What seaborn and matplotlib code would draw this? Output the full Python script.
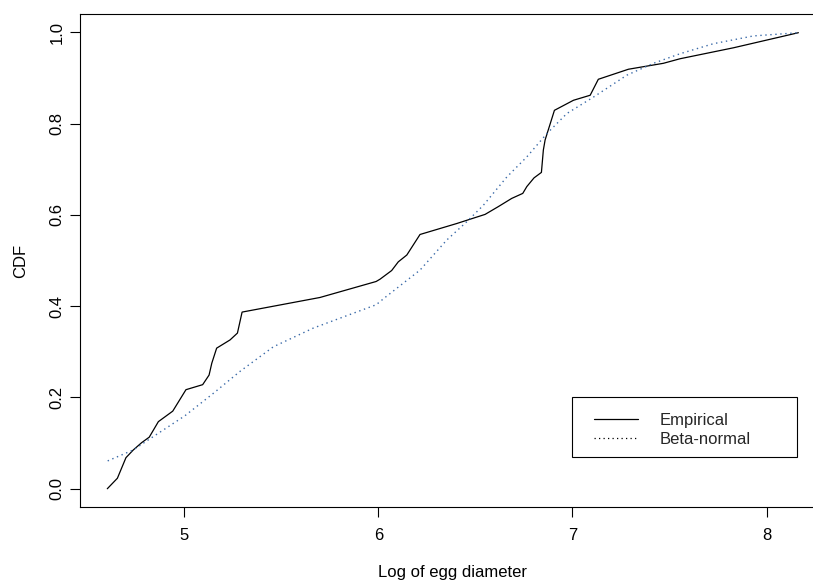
import matplotlib
matplotlib.use("Agg")
import matplotlib.pyplot as plt
import seaborn as sns
import pandas as pd
import numpy as np
from matplotlib.lines import Line2D
from matplotlib.patches import Rectangle

# Empirical CDF points (log egg diameter, CDF)
emp_x = [4.605, 4.657, 4.701, 4.739, 4.782, 4.821, 4.868, 4.942, 5.010, 5.096,
         5.129, 5.143, 5.168, 5.237, 5.275, 5.299, 5.700, 5.989, 6.009, 6.069,
         6.103, 6.147, 6.215, 6.404, 6.550, 6.618, 6.687, 6.744, 6.765, 6.802,
         6.840, 6.850, 6.859, 6.907, 7.005, 7.091, 7.133, 7.288, 7.468, 7.554,
         7.829, 8.163]
emp_y = [0.000, 0.023, 0.068, 0.085, 0.101, 0.113, 0.147, 0.170, 0.217, 0.228,
         0.249, 0.275, 0.308, 0.326, 0.341, 0.387, 0.419, 0.454, 0.459, 0.478,
         0.497, 0.512, 0.557, 0.581, 0.601, 0.618, 0.636, 0.647, 0.662, 0.681,
         0.693, 0.742, 0.764, 0.829, 0.851, 0.862, 0.897, 0.919, 0.932, 0.942,
         0.966, 0.999]

# Fitted beta-normal CDF
bn_x = [4.607, 4.739, 4.816, 5.005, 5.151, 5.288, 5.460, 5.666, 5.989, 6.035,
        6.215, 6.353, 6.456, 6.541, 6.662, 6.765, 6.868, 6.971, 7.108, 7.280,
        7.417, 7.554, 7.726, 7.932, 8.163]
bn_y = [0.061, 0.085, 0.107, 0.160, 0.209, 0.257, 0.311, 0.352, 0.403, 0.419,
        0.479, 0.545, 0.585, 0.621, 0.683, 0.727, 0.778, 0.822, 0.858, 0.906,
        0.932, 0.953, 0.975, 0.992, 0.999]

x_ticks = [5, 6, 7, 8]
y_ticks = [0.0, 0.2, 0.4, 0.6, 0.8, 1.0]
y_ticklabels = ["0.0", "0.2", "0.4", "0.6", "0.8", "1.0"]
series_names = ["Empirical", "Beta-normal"]

sns.set_style("white")
plt.rcParams["font.family"] = ["Liberation Sans", "DejaVu Sans"]

W, H = 813, 586
fig = plt.figure(figsize=(W / 100, H / 100), dpi=100)
ax = fig.add_axes([80 / W, (H - 507) / H, (825 - 80) / W, (507 - 14) / H])

df_emp = pd.DataFrame({"x": emp_x, "y": emp_y})
df_bn = pd.DataFrame({"x": bn_x, "y": bn_y})

sns.lineplot(data=df_emp, x="x", y="y", ax=ax, sort=False, estimator=None,
             color="black", lw=0.9, label=series_names[0])
sns.lineplot(data=df_bn, x="x", y="y", ax=ax, sort=False, estimator=None,
             color="#3a6aa8", lw=1.0, linestyle=(0, (1, 2.6)),
             label=series_names[1])

ax.set_xlim(4.4645, 8.30)
ax.set_ylim(-0.04, 1.04)
ax.set_xticks(x_ticks)
ax.set_xticklabels([str(t) for t in x_ticks])
ax.set_yticks(y_ticks)
ax.set_yticklabels(y_ticklabels, rotation=90, va="center")

for s in ax.spines.values():
    s.set_color("black")
    s.set_linewidth(0.8)

ax.tick_params(axis="both", which="major", direction="out", length=7.2,
               width=0.8, color="black", labelsize=12, labelcolor="black",
               bottom=True, left=True)
ax.tick_params(axis="x", pad=8)
ax.tick_params(axis="y", pad=4)

ax.set_xlabel("Log of egg diameter", fontsize=12, color="black", va="center")
ax.set_ylabel("CDF", fontsize=12, color="black", va="center")
ax.xaxis.set_label_coords(0.5, (507 - 573) / 493)
ax.yaxis.set_label_coords((20.5 - 80) / 745, 0.5)

# legend: the dotted sample is black in the reference key
leg_handles = [Line2D([0], [0], color="black", lw=0.9),
               Line2D([0], [0], color="black", lw=0.9, linestyle=(0, (1, 2.6)))]
leg = ax.legend(leg_handles, series_names, loc="upper left",
                bbox_to_anchor=(594 / W, 1 - 413 / H),
                bbox_transform=fig.transFigure,
                fontsize=12, frameon=False, handlelength=2.64,
                handletextpad=1.3, labelspacing=0.22, borderpad=0,
                borderaxespad=0)
fig.patches.append(Rectangle((572 / W, 1 - 457 / H), 225 / W, 60 / H,
                             transform=fig.transFigure, fill=False,
                             edgecolor="black", lw=0.8, zorder=5))

fig.savefig("out.png", dpi=100)
